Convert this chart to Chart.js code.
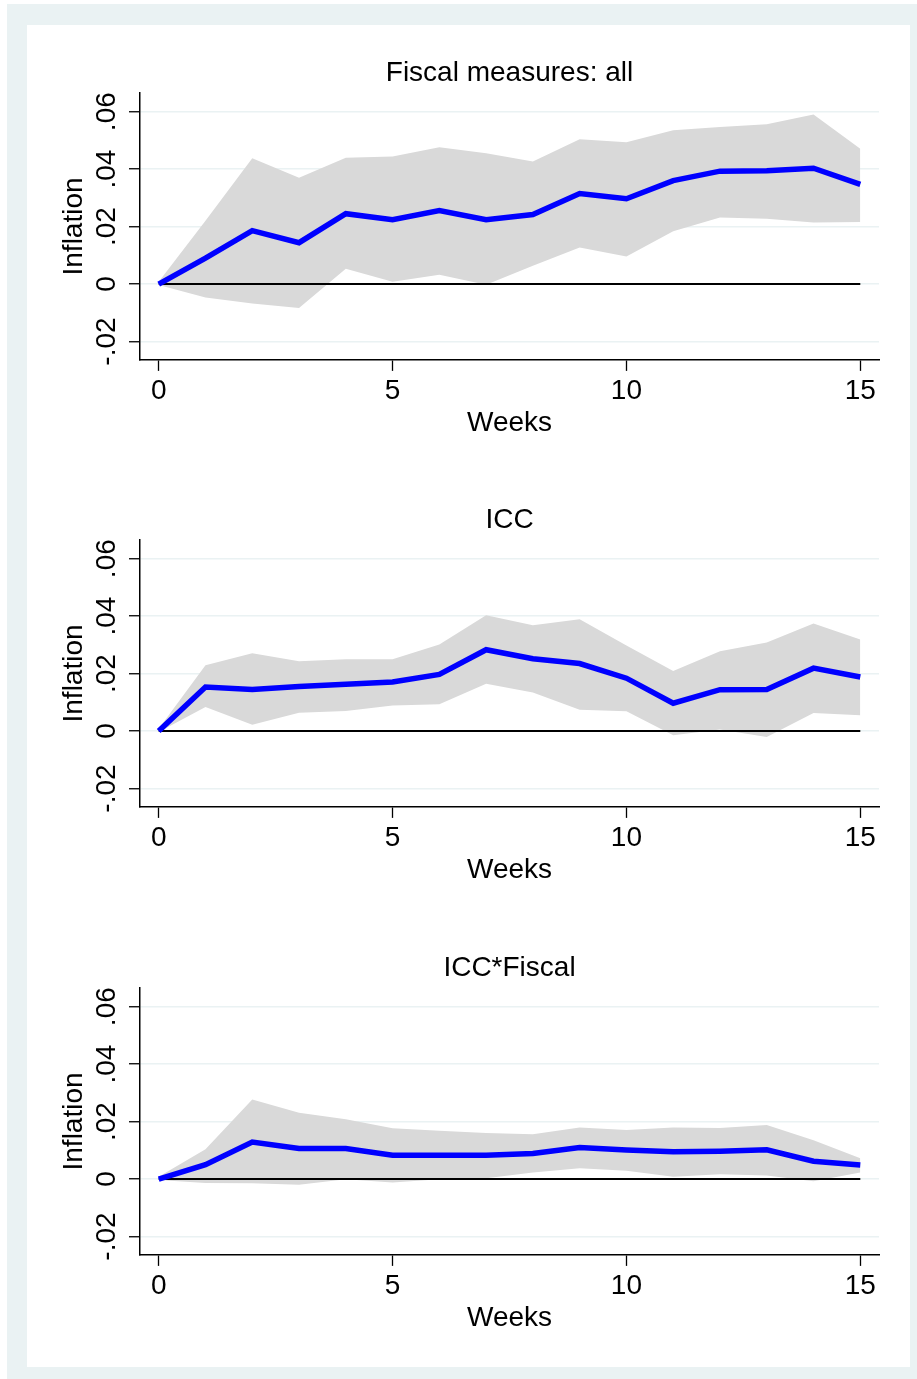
<!DOCTYPE html>
<html>
<head>
<meta charset="utf-8">
<title>Inflation responses</title>
<script src="https://cdn.jsdelivr.net/npm/chart.js@4.4.1/dist/chart.umd.min.js"></script>
<style>
    body { margin: 0; background: #ffffff; }
    .frame { position: absolute; left: 7px; top: 4px; width: 910px; height: 1375px; background: #eaf2f3; }
    .inner { position: absolute; left: 27px; top: 25px; width: 883px; height: 1342px; background: #ffffff; }
    canvas { position: absolute; left: 27px; }
</style>
</head>
<body>
<div class="frame"></div>
<div class="inner"></div>
<canvas id="panel0" width="883" height="447" style="top:25px"></canvas>
<canvas id="panel1" width="883" height="447" style="top:472px"></canvas>
<canvas id="panel2" width="883" height="447" style="top:920px"></canvas>
<script>
// Dados
const weeks = [0, 1, 2, 3, 4, 5, 6, 7, 8, 9, 10, 11, 12, 13, 14, 15];

const fiscalIrf   = [0, 0.009, 0.0186, 0.0144, 0.0245, 0.0224, 0.0256, 0.0224, 0.0242, 0.0315, 0.0297, 0.036, 0.0393, 0.0394, 0.0403, 0.0347];
const fiscalUpper = [0.0008, 0.022, 0.0438, 0.037, 0.044, 0.0444, 0.0476, 0.0455, 0.0427, 0.0504, 0.0494, 0.0535, 0.0547, 0.0556, 0.059, 0.0471];
const fiscalLower = [-0.0003, -0.0047, -0.0068, -0.0083, 0.0053, 0.0008, 0.0032, -0.0002, 0.0064, 0.0127, 0.0096, 0.0184, 0.0232, 0.0227, 0.0214, 0.0216];

const iccIrf   = [0, 0.0153, 0.0145, 0.0155, 0.0163, 0.0171, 0.0197, 0.0283, 0.0252, 0.0235, 0.0184, 0.0097, 0.0144, 0.0145, 0.0219, 0.0188];
const iccUpper = [0.0008, 0.0229, 0.0271, 0.0243, 0.025, 0.025, 0.0301, 0.0403, 0.0368, 0.0389, 0.0298, 0.0209, 0.0278, 0.0308, 0.0374, 0.0319];
const iccLower = [-0.0003, 0.0084, 0.0022, 0.0064, 0.007, 0.0089, 0.0093, 0.0165, 0.0134, 0.0074, 0.0069, -0.0015, 0.0005, -0.0021, 0.0063, 0.0055];

const crossIrf   = [0, 0.005, 0.0129, 0.0106, 0.0106, 0.0083, 0.0083, 0.0083, 0.0089, 0.011, 0.0101, 0.0095, 0.0097, 0.0102, 0.0062, 0.0049];
const crossUpper = [0.0008, 0.0104, 0.0277, 0.0231, 0.0208, 0.0177, 0.0168, 0.016, 0.0156, 0.0179, 0.0171, 0.0179, 0.0178, 0.0188, 0.0135, 0.0072];
const crossLower = [-0.0003, -0.0014, -0.0015, -0.002, -0.0001, -0.0012, -0.0001, 0.0003, 0.0023, 0.0038, 0.0029, 0.0008, 0.0017, 0.0012, -0.0008, 0.0023];

const panelTitles = ['Fiscal measures: all', 'ICC', 'ICC*Fiscal'];
const xTicks = [0, 5, 10, 15];
const yTicks = [-0.02, 0, 0.02, 0.04, 0.06];
const yTickLabels = ['-.02', '0', '.02', '.04', '.06'];

const FONT_FAMILY = "'Liberation Sans', Arial, Helvetica, sans-serif";
const FONT_SIZE = 28;

// Rótulos do eixo y girados e título centrado na área do gráfico, no estilo Stata
const stataText = {
    id: 'stataText',
    afterDraw(chart, args, opts) {
        const scale = chart.scales.y;
        const area = chart.chartArea;
        const ctx = chart.ctx;
        ctx.save();
        ctx.font = FONT_SIZE + 'px ' + FONT_FAMILY;
        ctx.fillStyle = '#000';
        ctx.textAlign = 'center';
        ctx.textBaseline = 'middle';

        ctx.fillText(opts.title, (area.left + area.right) / 2, area.top - 20);

        scale.ticks.forEach(tick => {
            const label = yTickLabels[yTicks.indexOf(tick.value)];
            const y = scale.getPixelForValue(tick.value);
            ctx.save();
            ctx.translate(scale.right - 33, y);
            ctx.rotate(-Math.PI / 2);
            ctx.fillText(label, 0, 0);
            ctx.restore();
        });
        ctx.restore();
    }
};

function toPoints(values) {
    return weeks.map((w, i) => ({ x: w, y: values[i] }));
}

function drawPanel(canvasId, title, irf, upper, lower) {
    const ctx = document.getElementById(canvasId).getContext('2d');
    const font = { family: FONT_FAMILY, size: FONT_SIZE };

    return new Chart(ctx, {
        type: 'line',
        data: {
            datasets: [{
                label: 'IRF',
                data: toPoints(irf),
                borderColor: '#0000ff',
                borderWidth: 5.5,
                pointRadius: 0,
                fill: false,
                tension: 0
            }, {
                label: 'zero',
                data: toPoints(weeks.map(() => 0)),
                borderColor: '#000000',
                borderWidth: 2,
                pointRadius: 0,
                fill: false
            }, {
                label: 'upper',
                data: toPoints(upper),
                borderColor: 'rgba(0,0,0,0)',
                borderWidth: 0,
                pointRadius: 0,
                backgroundColor: '#d9d9d9',
                fill: '+1'
            }, {
                label: 'lower',
                data: toPoints(lower),
                borderColor: 'rgba(0,0,0,0)',
                borderWidth: 0,
                pointRadius: 0,
                fill: false
            }]
        },
        options: {
            responsive: false,
            animation: false,
            layout: {
                padding: { left: 0, right: 31, top: 68, bottom: 36.5 }
            },
            plugins: {
                legend: { display: false },
                tooltip: { enabled: false },
                title: { display: false },
                stataText: { title: title }
            },
            scales: {
                x: {
                    type: 'linear',
                    min: -0.4,
                    max: 15.4,
                    afterBuildTicks: scale => {
                        scale.ticks = xTicks.map(v => ({ value: v }));
                    },
                    ticks: {
                        color: '#000',
                        font: { family: FONT_FAMILY, size: FONT_SIZE, lineHeight: 1.0 },
                        padding: 6.5,
                        maxRotation: 0,
                        callback: value => String(value)
                    },
                    grid: {
                        drawOnChartArea: false,
                        tickLength: 11,
                        tickColor: '#000',
                        tickWidth: 1.3
                    },
                    border: { color: '#000', width: 1.5 },
                    title: {
                        display: true,
                        text: 'Weeks',
                        color: '#000',
                        font: { family: FONT_FAMILY, size: FONT_SIZE, lineHeight: 0.843 },
                        padding: { top: 0, bottom: 0 }
                    }
                },
                y: {
                    min: -0.0264,
                    max: 0.0665,
                    afterBuildTicks: scale => {
                        scale.ticks = yTicks.map(v => ({ value: v }));
                    },
                    afterFit: scale => {
                        scale.width = 113;
                    },
                    ticks: { display: false },
                    grid: {
                        color: '#eaf2f3',
                        lineWidth: 1.5,
                        tickLength: 11,
                        tickColor: '#000',
                        tickWidth: 1.3
                    },
                    border: { color: '#000', width: 1.5 },
                    title: {
                        display: true,
                        text: 'Inflation',
                        color: '#000',
                        font: font,
                        padding: { top: 30, bottom: 0 }
                    }
                }
            }
        },
        plugins: [stataText]
    });
}

drawPanel('panel0', panelTitles[0], fiscalIrf, fiscalUpper, fiscalLower);
drawPanel('panel1', panelTitles[1], iccIrf, iccUpper, iccLower);
drawPanel('panel2', panelTitles[2], crossIrf, crossUpper, crossLower);
</script>
</body>
</html>
